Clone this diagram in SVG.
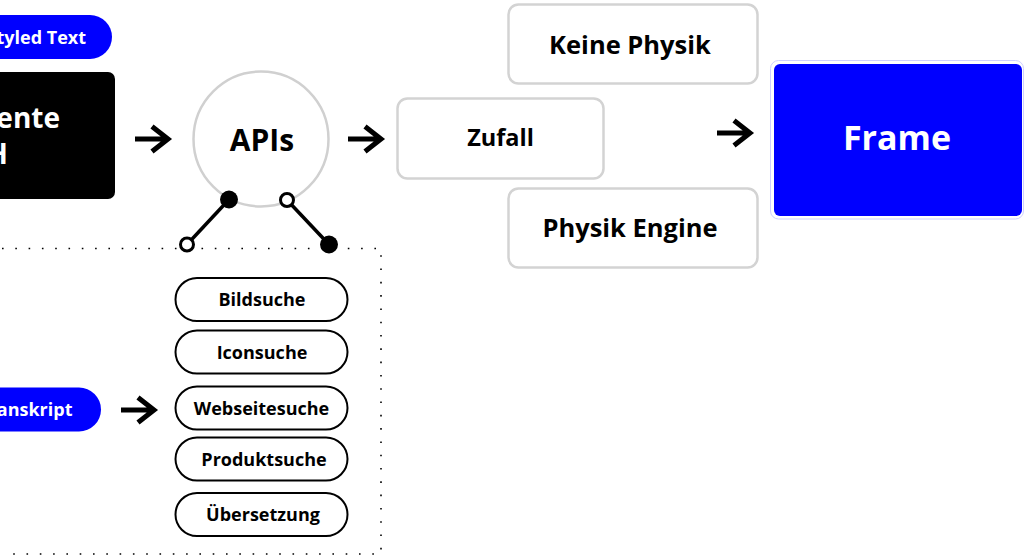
<svg xmlns="http://www.w3.org/2000/svg" width="1025" height="557" viewBox="0 0 1025 557">
  <defs>
    <style>
      text { font-family: "Open Sans", "Liberation Sans", sans-serif; font-weight: 700; }
      .w { fill: #ffffff; }
      .k { fill: #000000; }
      .grey { fill: #ffffff; stroke: #d3d3d3; stroke-width: 2.5; }
      .pill { fill: #ffffff; stroke: #000000; stroke-width: 2; }
      .blue { fill: #0000ff; }
      .arrow { fill: none; stroke: #000000; stroke-width: 5; stroke-linecap: butt; stroke-linejoin: miter; }
      .dots { fill: none; stroke: #000000; stroke-width: 1.6; stroke-dasharray: 1.6 11.7; }
      .link { stroke: #000000; stroke-width: 3.5; }
    </style>
    <path id="arr" d="M0 0 H33 M17 -12.5 L33 0 L17 12.5"/>
  </defs>

  <rect width="1025" height="557" fill="#ffffff"/>

  <!-- dotted frame around the API list -->
  <g id="api-frame">
    <path class="dots" d="M2 248.5 H381 V554 H2"/>
  </g>

  <g id="styled-text">
    <rect class="blue" x="-30" y="15" width="142" height="44" rx="22"/>
    <text class="w" x="86" y="44" font-size="18" text-anchor="end">tyled Text</text>
  </g>

  <g id="component">
    <rect x="-20" y="72" width="135" height="127" rx="7" fill="#000000"/>
    <text class="w" x="60" y="128" font-size="28" text-anchor="end">ente</text>
    <text class="w" x="8" y="164" font-size="28" text-anchor="end">H</text>
  </g>

  <g id="apis">
    <circle cx="261" cy="139" r="67.5" fill="#ffffff" stroke="#d0d0d0" stroke-width="2.5"/>
    <text class="k" x="262" y="151" font-size="30" text-anchor="middle">APIs</text>
  </g>

  <g id="zufall">
    <rect class="grey" x="397.5" y="98.5" width="206" height="80" rx="10"/>
    <text class="k" x="500.5" y="146" font-size="23.5" text-anchor="middle">Zufall</text>
  </g>

  <g id="keine-physik">
    <rect class="grey" x="508.5" y="4.5" width="249" height="79" rx="10"/>
    <text class="k" x="630" y="53.5" font-size="25.5" text-anchor="middle">Keine Physik</text>
  </g>

  <g id="physik-engine">
    <rect class="grey" x="508.5" y="188.5" width="249" height="79" rx="10"/>
    <text class="k" x="630" y="237" font-size="25.5" text-anchor="middle">Physik Engine</text>
  </g>

  <g id="frame">
    <rect x="770.5" y="60.5" width="253" height="158.5" rx="8" fill="#ffffff" stroke="#cfd0ff" stroke-width="1"/>
    <rect class="blue" x="774" y="64" width="248" height="152" rx="6"/>
    <text class="w" x="897" y="149.5" font-size="34" text-anchor="middle">Frame</text>
  </g>

  <g id="transkript">
    <rect class="blue" x="-30" y="387.5" width="131" height="44" rx="22"/>
    <text class="w" x="72.5" y="415.5" font-size="18" text-anchor="end">anskript</text>
  </g>

  <g id="bildsuche">
    <rect class="pill" x="175.5" y="278" width="172" height="43" rx="21.5"/>
    <text class="k" x="262" y="306" font-size="18" text-anchor="middle">Bildsuche</text>
  </g>
  <g id="iconsuche">
    <rect class="pill" x="175.5" y="330.5" width="172" height="43" rx="21.5"/>
    <text class="k" x="262" y="358.5" font-size="18" text-anchor="middle">Iconsuche</text>
  </g>
  <g id="webseitesuche">
    <rect class="pill" x="175.5" y="386.5" width="172" height="43" rx="21.5"/>
    <text class="k" x="261.5" y="414.5" font-size="18" text-anchor="middle">Webseitesuche</text>
  </g>
  <g id="produktsuche">
    <rect class="pill" x="175.5" y="437.5" width="172" height="43" rx="21.5"/>
    <text class="k" x="264" y="465.5" font-size="18" text-anchor="middle">Produktsuche</text>
  </g>
  <g id="uebersetzung">
    <rect class="pill" x="175.5" y="493" width="172" height="43" rx="21.5"/>
    <text class="k" x="263" y="521" font-size="18" text-anchor="middle">Übersetzung</text>
  </g>

  <g id="connectors">
    <use href="#arr" class="arrow" x="135" y="139"/>
    <use href="#arr" class="arrow" x="348" y="139"/>
    <use href="#arr" class="arrow" x="717" y="133"/>
    <use href="#arr" class="arrow" x="121" y="410"/>

    <line class="link" x1="229" y1="199.5" x2="187" y2="244.5"/>
    <circle cx="229" cy="199.5" r="9" fill="#000000"/>
    <circle cx="187" cy="244.5" r="6.5" fill="#ffffff" stroke="#000000" stroke-width="3"/>

    <line class="link" x1="287" y1="200" x2="329" y2="244.5"/>
    <circle cx="287" cy="200" r="6.5" fill="#ffffff" stroke="#000000" stroke-width="3"/>
    <circle cx="329" cy="244.5" r="9" fill="#000000"/>
  </g>
</svg>
